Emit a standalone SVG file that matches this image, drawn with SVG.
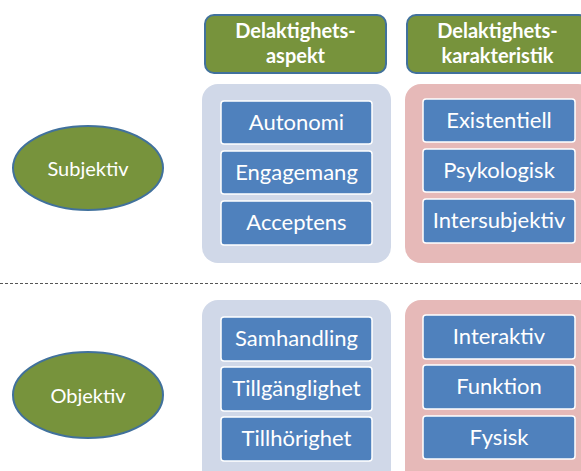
<svg xmlns="http://www.w3.org/2000/svg" width="581" height="471" viewBox="0 0 581 471">
<style>
.hdr{fill:#77933C;stroke:#41719C;stroke-width:2}
.ell{fill:#77933C;stroke:#41719C;stroke-width:2}
.pb{fill:#D0D8E8}
.pp{fill:#E6B9B8}
.item{fill:#4F81BD;stroke:#FFFFFF;stroke-width:1.5}
text{font-family:Lato,"Liberation Sans",sans-serif;fill:#FFFFFF;text-anchor:middle}
.ht{font-size:20px;font-weight:bold}
.it{font-size:22px}
.et{font-size:20px}
</style>
<rect width="581" height="471" fill="#FFFFFF"/>
<g id="hdr-aspekt"><rect class="hdr" x="205" y="15" width="181" height="58" rx="9"/><text class="ht" x="295.5" y="38">Delaktighets-</text><text class="ht" x="295.5" y="63">aspekt</text></g>
<g id="hdr-karakteristik"><rect class="hdr" x="407" y="15" width="181" height="58" rx="9"/><text class="ht" x="497.5" y="38">Delaktighets-</text><text class="ht" x="497.5" y="63">karakteristik</text></g>
<g id="subjektiv"><ellipse class="ell" cx="88" cy="168" rx="75" ry="42"/><text class="et" x="88" y="176">Subjektiv</text></g>
<g id="objektiv"><ellipse class="ell" cx="88" cy="395" rx="75" ry="43"/><text class="et" x="88" y="403">Objektiv</text></g>
<g id="panel-aspekt-subj"><rect class="pb" x="202" y="84" width="189" height="179" rx="16"/></g>
<g id="panel-kar-subj"><rect class="pp" x="405" y="84" width="189" height="179" rx="16"/></g>
<g id="panel-aspekt-obj"><rect class="pb" x="202" y="300" width="189" height="190" rx="16"/></g>
<g id="panel-kar-obj"><rect class="pp" x="405" y="300" width="189" height="190" rx="16"/></g>
<g id="autonomi"><rect class="item" x="221" y="101" width="151" height="43" rx="3"/><text class="it" x="296.5" y="130">Autonomi</text></g>
<g id="engagemang"><rect class="item" x="221" y="151" width="151" height="43" rx="3"/><text class="it" x="296.5" y="180">Engagemang</text></g>
<g id="acceptens"><rect class="item" x="221" y="201" width="151" height="44" rx="3"/><text class="it" x="296.5" y="230">Acceptens</text></g>
<g id="existentiell"><rect class="item" x="423" y="99" width="152" height="43" rx="3"/><text class="it" x="499" y="128">Existentiell</text></g>
<g id="psykologisk"><rect class="item" x="423" y="149" width="152" height="43" rx="3"/><text class="it" x="499" y="178">Psykologisk</text></g>
<g id="intersubjektiv"><rect class="item" x="423" y="199" width="152" height="44" rx="3"/><text class="it" x="499" y="228">Intersubjektiv</text></g>
<g id="samhandling"><rect class="item" x="221" y="317" width="151" height="44" rx="3"/><text class="it" x="296.5" y="346">Samhandling</text></g>
<g id="tillganglighet"><rect class="item" x="221" y="367" width="151" height="44" rx="3"/><text class="it" x="296.5" y="396">Tillgänglighet</text></g>
<g id="tillhorighet"><rect class="item" x="221" y="417" width="151" height="44" rx="3"/><text class="it" x="296.5" y="446">Tillhörighet</text></g>
<g id="interaktiv"><rect class="item" x="423" y="315" width="152" height="44" rx="3"/><text class="it" x="499" y="344">Interaktiv</text></g>
<g id="funktion"><rect class="item" x="423" y="365" width="152" height="44" rx="3"/><text class="it" x="499" y="394">Funktion</text></g>
<g id="fysisk"><rect class="item" x="423" y="416" width="152" height="43" rx="3"/><text class="it" x="499" y="445">Fysisk</text></g>
<g id="connectors"><line x1="0" y1="283.5" x2="581" y2="283.5" stroke="#555555" stroke-width="1" stroke-dasharray="3,2"/></g>
</svg>
